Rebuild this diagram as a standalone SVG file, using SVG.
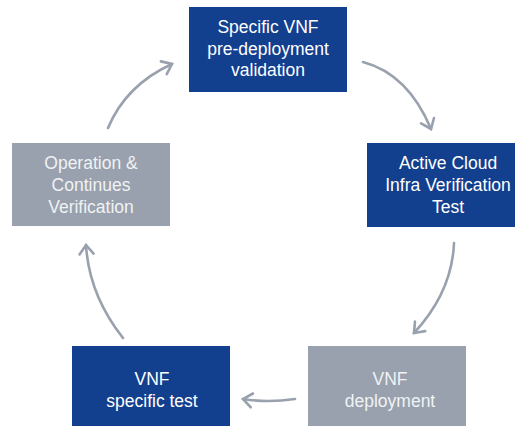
<svg xmlns="http://www.w3.org/2000/svg" width="515" height="426" viewBox="0 0 515 426">
<style>
.blue{fill:#12408F}
.grey{fill:#98A1AD}
.t{font-family:"Liberation Sans",Arial,sans-serif;font-size:17.5px;text-anchor:middle}
.tw{fill:#FFFFFF}
.tg{fill:#F1F2F4}
.c{fill:none;stroke:#98A1AD;stroke-width:2.6;stroke-linecap:round}
</style>
<defs>
<marker id="ah" markerUnits="userSpaceOnUse" markerWidth="24" markerHeight="24" viewBox="-12 -12 24 24" refX="0" refY="0" orient="auto">
<path d="M-9,-7 L0,0 L-9,7" fill="none" stroke="#98A1AD" stroke-width="2.6" stroke-linecap="round" stroke-linejoin="miter"/>
</marker>
</defs>
<rect width="515" height="426" fill="#FFFFFF"/>
<g id="connectors">
<path class="c" d="M363,62 Q408,74 431,129" marker-end="url(#ah)"/>
<path class="c" d="M454,243 Q452,292 414,333" marker-end="url(#ah)"/>
<path class="c" d="M295,399 Q268,403 243,399" marker-end="url(#ah)"/>
<path class="c" d="M123,338 Q89,295 86,245" marker-end="url(#ah)"/>
<path class="c" d="M108,128 Q126,85 172,64" marker-end="url(#ah)"/>
</g>
<g id="node-predeploy">
<rect class="blue" x="189" y="7" width="158" height="85"/>
<text class="t tw" x="268" y="33">Specific VNF</text>
<text class="t tw" x="268" y="55">pre-deployment</text>
<text class="t tw" x="268" y="76">validation</text>
</g>
<g id="node-active">
<rect class="blue" x="367" y="143" width="158" height="84"/>
<text class="t tw" x="448" y="169">Active Cloud</text>
<text class="t tw" x="448" y="191">Infra Verification</text>
<text class="t tw" x="448" y="213">Test</text>
</g>
<g id="node-deploy">
<rect class="grey" x="308" y="346" width="158" height="85"/>
<text class="t tg" x="390" y="385">VNF</text>
<text class="t tg" x="390" y="407">deployment</text>
</g>
<g id="node-test">
<rect class="blue" x="72" y="346" width="158" height="85"/>
<text class="t tw" x="152" y="385">VNF</text>
<text class="t tw" x="152" y="407">specific test</text>
</g>
<g id="node-operation">
<rect class="grey" x="12" y="143" width="158" height="83"/>
<text class="t tg" x="91" y="169">Operation &amp;</text>
<text class="t tg" x="91" y="191">Continues</text>
<text class="t tg" x="91" y="213">Verification</text>
</g>
</svg>
